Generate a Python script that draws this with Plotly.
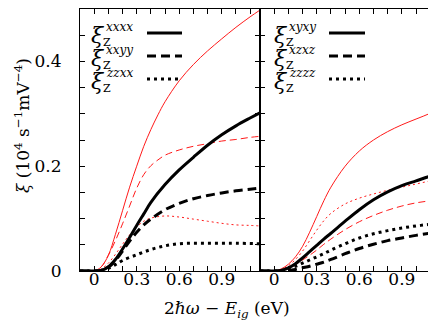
import plotly.graph_objects as go

# ---------------- data ----------------
# Left panel (xxxx, xxyy, zzxx)
L_red_solid_x = [-0.1, 0, 0.05, 0.1, 0.15, 0.2, 0.25, 0.3, 0.35, 0.4, 0.45, 0.5, 0.6, 0.7, 0.8, 0.9, 1.0, 1.1, 1.17]
L_red_solid_y = [0, 0, 0.008, 0.03, 0.07, 0.115, 0.16, 0.2, 0.238, 0.27, 0.298, 0.323, 0.363, 0.394, 0.42, 0.443, 0.465, 0.485, 0.498]

L_red_dash_x = [-0.1, 0, 0.05, 0.1, 0.15, 0.2, 0.25, 0.3, 0.35, 0.4, 0.45, 0.5, 0.6, 0.7, 0.8, 0.9, 1.0, 1.1, 1.17]
L_red_dash_y = [0, 0, 0.008, 0.03, 0.058, 0.09, 0.124, 0.158, 0.184, 0.201, 0.212, 0.221, 0.231, 0.238, 0.243, 0.248, 0.251, 0.255, 0.257]

L_red_dot_x = [-0.1, 0, 0.05, 0.1, 0.15, 0.2, 0.25, 0.3, 0.35, 0.4, 0.5, 0.6, 0.7, 0.8, 0.9, 1.0, 1.1, 1.17]
L_red_dot_y = [0, 0, 0.004, 0.015, 0.032, 0.051, 0.069, 0.084, 0.095, 0.101, 0.105, 0.103, 0.099, 0.095, 0.091, 0.088, 0.087, 0.086]

L_blk_solid_x = [-0.1, 0, 0.05, 0.1, 0.15, 0.2, 0.25, 0.3, 0.35, 0.4, 0.5, 0.6, 0.7, 0.8, 0.9, 1.0, 1.1, 1.17]
L_blk_solid_y = [0, 0, 0.001, 0.008, 0.022, 0.042, 0.064, 0.087, 0.109, 0.131, 0.165, 0.193, 0.217, 0.24, 0.26, 0.277, 0.292, 0.302]

L_blk_dash_x = [-0.1, 0, 0.05, 0.1, 0.15, 0.2, 0.25, 0.3, 0.35, 0.4, 0.5, 0.6, 0.7, 0.8, 0.9, 1.0, 1.1, 1.17]
L_blk_dash_y = [0, 0, 0.001, 0.007, 0.02, 0.038, 0.057, 0.074, 0.088, 0.099, 0.117, 0.129, 0.138, 0.144, 0.149, 0.153, 0.156, 0.158]

L_blk_dot_x = [-0.1, 0, 0.05, 0.1, 0.15, 0.2, 0.3, 0.4, 0.5, 0.6, 0.7, 0.8, 0.9, 1.0, 1.17]
L_blk_dot_y = [0, 0, 0.001, 0.005, 0.012, 0.02, 0.031, 0.041, 0.048, 0.052, 0.053, 0.053, 0.053, 0.053, 0.052]

# Right panel (xyxy, xzxz, zzzz)
R_red_solid_x = [-0.1, 0, 0.05, 0.1, 0.15, 0.2, 0.25, 0.3, 0.35, 0.4, 0.5, 0.6, 0.7, 0.8, 0.9, 1.0, 1.1, 1.19]
R_red_solid_y = [0, 0, 0.004, 0.013, 0.027, 0.047, 0.074, 0.104, 0.134, 0.16, 0.2, 0.229, 0.25, 0.266, 0.279, 0.29, 0.301, 0.313]

R_red_dot_x = [-0.1, 0, 0.05, 0.1, 0.15, 0.2, 0.25, 0.3, 0.35, 0.4, 0.5, 0.6, 0.7, 0.8, 0.9, 1.0, 1.1, 1.19]
R_red_dot_y = [0, 0, 0.003, 0.01, 0.022, 0.038, 0.058, 0.078, 0.096, 0.11, 0.128, 0.139, 0.147, 0.154, 0.16, 0.166, 0.172, 0.177]

R_blk_solid_x = [-0.1, 0, 0.05, 0.1, 0.15, 0.2, 0.25, 0.3, 0.35, 0.4, 0.5, 0.6, 0.7, 0.8, 0.9, 1.0, 1.1, 1.19]
R_blk_solid_y = [0, 0, 0.001, 0.006, 0.014, 0.025, 0.037, 0.049, 0.061, 0.072, 0.095, 0.117, 0.136, 0.151, 0.163, 0.172, 0.181, 0.188]

R_red_dash_x = [-0.1, 0, 0.05, 0.1, 0.15, 0.2, 0.25, 0.3, 0.35, 0.4, 0.5, 0.6, 0.7, 0.8, 0.9, 1.0, 1.1, 1.19]
R_red_dash_y = [0, 0, 0.001, 0.005, 0.012, 0.021, 0.03, 0.04, 0.051, 0.061, 0.079, 0.094, 0.106, 0.116, 0.124, 0.13, 0.134, 0.137]

R_blk_dot_x = [-0.1, 0, 0.05, 0.1, 0.15, 0.2, 0.25, 0.3, 0.35, 0.4, 0.5, 0.6, 0.7, 0.8, 0.9, 1.0, 1.1, 1.19]
R_blk_dot_y = [0, 0, 0.001, 0.004, 0.009, 0.015, 0.021, 0.027, 0.033, 0.04, 0.052, 0.063, 0.071, 0.077, 0.082, 0.086, 0.089, 0.091]

R_blk_dash_x = [-0.1, 0, 0.05, 0.1, 0.15, 0.2, 0.25, 0.3, 0.35, 0.4, 0.5, 0.6, 0.7, 0.8, 0.9, 1.0, 1.1, 1.19]
R_blk_dash_y = [0, 0, 0.0, 0.001, 0.003, 0.006, 0.009, 0.013, 0.017, 0.022, 0.033, 0.043, 0.051, 0.058, 0.063, 0.068, 0.072, 0.075]

left_labels = ["xxxx", "xxyy", "zzxx"]
right_labels = ["xyxy", "xzxz", "zzzz"]

x_tickvals = [-0.1, 0, 0.1, 0.2, 0.3, 0.4, 0.5, 0.6, 0.7, 0.8, 0.9, 1.0, 1.1]
x_ticktext = ["", "0", "", "", "0.3", "", "", "0.6", "", "", "0.9", "", ""]
y_tickvals = [0, 0.05, 0.1, 0.15, 0.2, 0.25, 0.3, 0.35, 0.4, 0.45, 0.5]
y_ticktext = ["0", "", "", "", "0.2", "", "", "", "0.4", "", ""]

# ---------------- styles ----------------
W, H = 436, 327
ML, MR, MT, MB = 72, 1, 1, 64
PW, PH = W - ML - MR, H - MT - MB
SPLIT = (252 - ML) / PW

RED = "#ff1a1a"
BLK = "#000000"
S_RED_SOLID = dict(color=RED, width=1, dash="solid")
S_RED_DASH = dict(color=RED, width=1, dash="7px,4px")
S_RED_DOT = dict(color=RED, width=1, dash="2px,3px")
S_BLK_SOLID = dict(color=BLK, width=3, dash="solid")
S_BLK_DASH = dict(color=BLK, width=3, dash="9px,5px")
S_BLK_DOT = dict(color=BLK, width=3, dash="3px,4px")

fig = go.Figure()

def add(x, y, style, xa, ya):
    fig.add_trace(go.Scatter(x=x, y=y, mode="lines", line=dict(**style, shape="spline", smoothing=1.0),
                             xaxis=xa, yaxis=ya, showlegend=False, hoverinfo="skip"))

add(L_red_solid_x, L_red_solid_y, S_RED_SOLID, "x", "y")
add(L_red_dash_x, L_red_dash_y, S_RED_DASH, "x", "y")
add(L_red_dot_x, L_red_dot_y, S_RED_DOT, "x", "y")
add(L_blk_solid_x, L_blk_solid_y, S_BLK_SOLID, "x", "y")
add(L_blk_dash_x, L_blk_dash_y, S_BLK_DASH, "x", "y")
add(L_blk_dot_x, L_blk_dot_y, S_BLK_DOT, "x", "y")

add(R_red_solid_x, R_red_solid_y, S_RED_SOLID, "x2", "y2")
add(R_red_dot_x, R_red_dot_y, S_RED_DOT, "x2", "y2")
add(R_red_dash_x, R_red_dash_y, S_RED_DASH, "x2", "y2")
add(R_blk_solid_x, R_blk_solid_y, S_BLK_SOLID, "x2", "y2")
add(R_blk_dash_x, R_blk_dash_y, S_BLK_DASH, "x2", "y2")
add(R_blk_dot_x, R_blk_dot_y, S_BLK_DOT, "x2", "y2")

FONT = "DejaVu Serif"
tickfont = dict(family=FONT, size=17, color="black")

common_x = dict(showline=True, linecolor="black", linewidth=1, mirror="ticks", ticks="inside",
                ticklen=5, tickwidth=1, tickcolor="black", tickvals=x_tickvals, ticktext=x_ticktext,
                tickfont=tickfont, showgrid=False, zeroline=False, ticklabelstandoff=-7)
common_y = dict(showline=True, linecolor="black", linewidth=1, mirror="ticks", ticks="inside",
                ticklen=5, tickwidth=1, tickcolor="black", tickvals=y_tickvals, ticktext=y_ticktext,
                tickfont=tickfont, showgrid=False, zeroline=False, range=[0, 0.5])

fig.update_layout(
    width=W, height=H,
    margin=dict(l=ML, r=MR, t=MT, b=MB),
    paper_bgcolor="white", plot_bgcolor="white",
    font=dict(family=FONT, color="black"),
    xaxis=dict(domain=[0, SPLIT], range=[-0.1, 1.17], anchor="y", **common_x),
    xaxis2=dict(domain=[SPLIT, 1], range=[-0.1, 1.19], anchor="y2", **common_x),
    yaxis=dict(domain=[0, 1], anchor="x", ticklabelstandoff=14, **common_y),
    yaxis2=dict(domain=[0, 1], anchor="x2", showticklabels=False, **common_y),
)

def px_x(p):
    return (p - ML) / PW

def px_y(p):
    return (H - MB - p) / PH

annotations = []
shapes = []
legend_styles = [S_BLK_SOLID, S_BLK_DASH, S_BLK_DOT]
for labels, xi, line_x0, line_x1 in [(left_labels, 90, 139, 174), (right_labels, 273, 321, 357)]:
    for i, lab in enumerate(labels):
        yc = 27 + 23 * i
        annotations.append(dict(text="<i>ξ</i>", x=px_x(xi), y=px_y(yc), xref="paper", yref="paper",
                                showarrow=False, xanchor="center", yanchor="middle",
                                font=dict(family=FONT, size=22, color="black")))
        annotations.append(dict(text="<i>" + lab + "</i>", x=px_x(xi + 6), y=px_y(yc - 8), xref="paper", yref="paper",
                                showarrow=False, xanchor="left", yanchor="middle",
                                font=dict(family=FONT, size=12, color="black")))
        annotations.append(dict(text="Z", x=px_x(xi + 3), y=px_y(yc + 7), xref="paper", yref="paper",
                                showarrow=False, xanchor="left", yanchor="middle",
                                font=dict(family=FONT, size=11, color="black")))
        st = legend_styles[i]
        shapes.append(dict(type="line", xref="paper", yref="paper",
                           x0=px_x(line_x0), x1=px_x(line_x1), y0=px_y(yc - 2), y1=px_y(yc - 2),
                           line=dict(color=st["color"], width=st["width"], dash=st["dash"])))

annotations.append(dict(text="<i>ξ</i> (10<sup>4</sup> s<sup>−1</sup>mV<sup>−4</sup>)",
                        x=px_x(14), y=px_y(118), xref="paper", yref="paper", showarrow=False,
                        textangle=-90, xanchor="center", yanchor="middle",
                        font=dict(family=FONT, size=17, color="black")))
annotations.append(dict(text="2<i>ℏω</i> − <i>E</i><sub><i>ig</i></sub> (eV)",
                        x=px_x(219), y=px_y(301), xref="paper", yref="paper", showarrow=False,
                        xanchor="center", yanchor="middle",
                        font=dict(family=FONT, size=17, color="black")))

fig.update_layout(annotations=annotations, shapes=shapes)
fig.write_html("out.html")
